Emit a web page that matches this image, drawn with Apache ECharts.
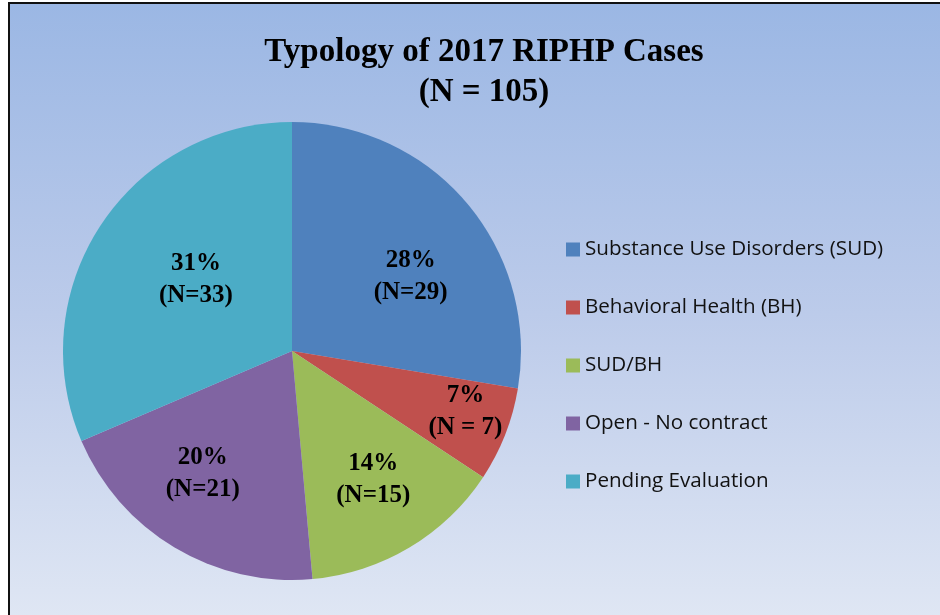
<!DOCTYPE html>
<html>
<head>
<meta charset="utf-8">
<script src="https://cdn.jsdelivr.net/npm/echarts@6/dist/echarts.min.js"></script>
<style>
  html, body { margin: 0; padding: 0; background: #ffffff; }
  #frame {
    position: absolute; left: 8px; top: 2px; width: 940px; height: 620px;
    border-left: 2px solid #111; border-top: 2px solid #111;
    background: linear-gradient(to bottom, #9bb7e4 0%, #bccbea 50%, #e0e7f4 100%);
  }
  #main { position: absolute; left: 0; top: 0; width: 940px; height: 615px; }
</style>
</head>
<body>
<div id="frame"></div>
<div id="main"></div>
<script>
var categories = ["Substance Use Disorders (SUD)", "Behavioral Health (BH)", "SUD/BH", "Open - No contract", "Pending Evaluation"];
var counts = [29, 7, 15, 21, 33];
var percentLabels = ["28%", "7%", "14%", "20%", "31%"];
var countLabels = ["(N=29)", "(N = 7)", "(N=15)", "(N=21)", "(N=33)"];
var colors = ["#4f81bd", "#c0504d", "#9bbb59", "#8064a2", "#4bacc6"];
// nudges so the labels sit where Excel put them
var labelNudge = [[29, 2], [64, 18], [21, 28], [-29, 22], [2, -7]];

var chartDom = document.getElementById("main");
var myChart = echarts.init(chartDom);

var pieData = categories.map(function (name, i) {
  return {
    name: name,
    value: counts[i],
    itemStyle: { color: colors[i] },
    label: { offset: labelNudge[i] }
  };
});

var option = {
  backgroundColor: "transparent",
  title: {
    text: "Typology of 2017 RIPHP Cases\n(N = 105)",
    left: 479,
    top: 27,
    textAlign: "center",
    textStyle: {
      fontFamily: "Liberation Serif",
      fontWeight: "bold",
      fontSize: 33,
      lineHeight: 40,
      color: "#000"
    }
  },
  legend: {
    orient: "vertical",
    left: 561,
    top: 234,
    itemWidth: 14,
    itemHeight: 14,
    itemGap: 37,
    icon: "rect",
    data: categories,
    textStyle: {
      fontFamily: "Open Sans",
      fontSize: 20.6,
      color: "#111",
      padding: [0, 0, 0, 0]
    }
  },
  series: [
    {
      type: "pie",
      center: [292, 351],
      radius: [0, 229],
      startAngle: 90,
      clockwise: true,
      avoidLabelOverlap: false,
      data: pieData,
      itemStyle: { borderWidth: 0 },
      emphasis: { disabled: true },
      label: {
        show: true,
        position: "inside",
        formatter: function (p) {
          return percentLabels[p.dataIndex] + "\n" + countLabels[p.dataIndex];
        },
        fontFamily: "Liberation Serif",
        fontWeight: "bold",
        fontSize: 25,
        lineHeight: 32,
        color: "#000",
        textBorderWidth: 0
      },
      labelLine: { show: false }
    }
  ]
};

option && myChart.setOption(option);
</script>
</body>
</html>
